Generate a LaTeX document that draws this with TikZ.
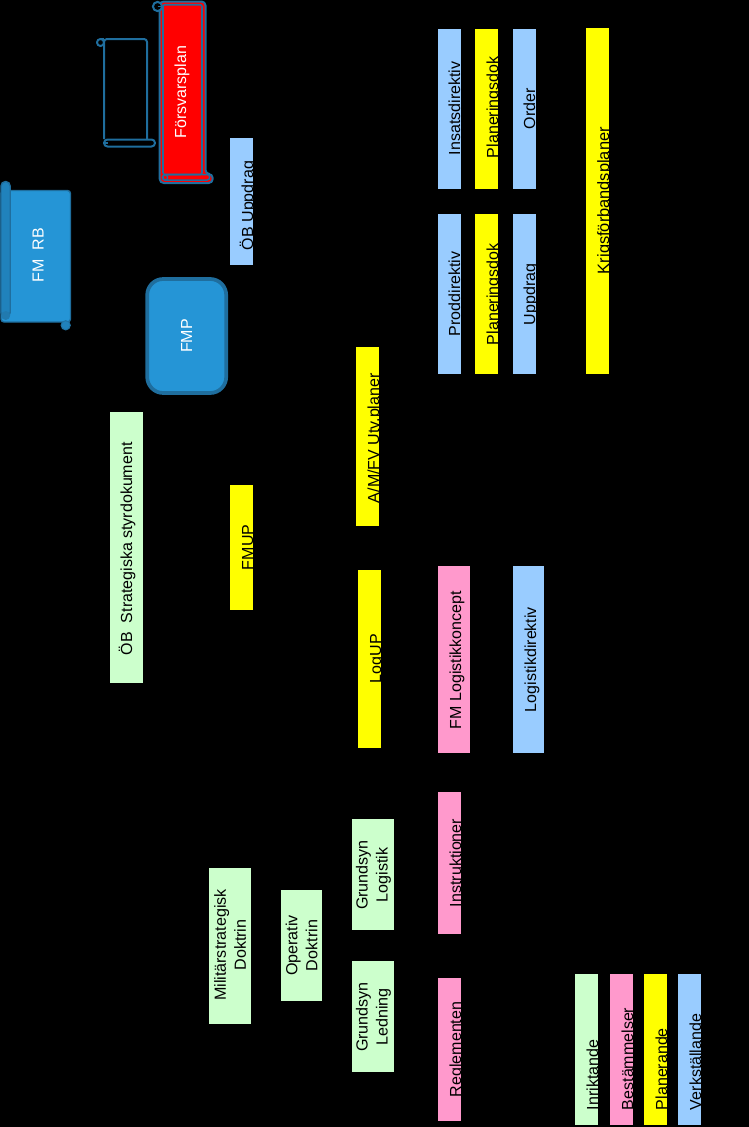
\documentclass[tikz,border=0pt]{standalone}
\usepackage{fontspec}
\setmainfont{Liberation Sans}
\definecolor{cgreen}{HTML}{CCFFCC}
\definecolor{cblue}{HTML}{99CCFF}
\definecolor{cyel}{HTML}{FFFF00}
\definecolor{cpink}{HTML}{FF99CC}
\definecolor{cfill}{HTML}{2595D6}
\definecolor{cedge}{HTML}{1F6E9E}
\definecolor{cdark}{HTML}{2082BC}
\tikzset{
  px/.style={x=1pt,y=-1pt},
  lbl/.style={rotate=90,anchor=base west,inner sep=0pt,outer sep=0pt,font=\fontsize{16}{16}\selectfont,text=black},
  lblw/.style={lbl,font=\fontsize{16.4}{16}\selectfont},
  lblc/.style={rotate=90,anchor=center,inner sep=0pt,outer sep=0pt,font=\fontsize{16.1}{20}\selectfont,text=black,align=center},
  wlbl/.style={rotate=90,anchor=center,inner sep=0pt,outer sep=0pt,font=\fontsize{16}{16}\selectfont,text=white},
  scrollline/.style={draw=cedge,line width=2pt,line join=round},
}
% name, x0, y0, x1, y1, colour
\newcommand{\blk}[6]{\path[fill=#6] (#2,#3) rectangle (#4,#5); \coordinate (#1) at (#2,#3);}
\begin{document}
\begin{tikzpicture}[px]
\useasboundingbox[fill=black] (0,0) rectangle (749,1127);
% empty scroll
\draw[scrollline,rounded corners=3pt] (104,139) -- (104,39) -- (147,39) -- (147,139);
\draw[scrollline] (104,39) -- (100.5,39);
\draw[scrollline] (100.5,42.5) circle (3.5);
\draw[scrollline,rounded corners=3.5pt] (104,139.5) rectangle (155,146.5);
\draw[scrollline,line width=1.2pt] (105,143) -- (108,143);
% Forsvarsplan
\path[fill=red,scrollline,rounded corners=4pt] (159.7,183) -- (159.7,1.5) -- (205.5,1.5) -- (205.5,174) -- (212.7,174) -- (212.7,183) -- cycle;
\path[fill=red,scrollline,line width=1.6pt,rounded corners=2pt] (163,4.7) -- (202,4.7) -- (202,174.5) -- (163,174.5) -- cycle;
\draw[scrollline,line width=1.5pt,rounded corners=2.5pt] (163,174.5) rectangle (209.7,180);
\draw[scrollline,line width=1.3pt] (165,177.5) circle (2.7);
\path[fill=black,scrollline] (157.5,6.5) circle (4.6);
\draw[scrollline,line width=1.2pt] (157.5,6.5) -- (161,6.5);
\node[wlbl] (fp) at (182,92) {Försvarsplan};
% FM RB
\path[fill=cfill,draw=cedge,line width=1.4pt,rounded corners=3pt] (1,190.5) -- (70.5,190.5) -- (70.5,322) -- (1,322) -- cycle;
\path[fill=cdark,draw=cedge,line width=1.4pt,rounded corners=4.5pt] (1,181.5) -- (10.2,181.5) -- (10.2,317) -- (1,317) -- cycle;
\path[fill=cedge!70!cfill] (5.7,315.5) circle (4.5);
\path[fill=cdark,draw=cedge!85!cfill,line width=1pt] (65.7,325.3) circle (4.6);
\node[wlbl] (fmrb) at (38,255) {FM\ \ RB};
% FMP
\node[draw=cedge,fill=cfill,line width=3.7pt,rounded corners=16pt,minimum width=79pt,minimum height=114pt,inner sep=0pt] (fmpbox) at (186.7,336) {};
\node[wlbl] (fmp) at (fmpbox.center) {FMP};
% blocks
\blk{b1}{438}{29}{461}{189}{cblue}\node[lbl] (t1) at (460,155) {Insatsdirektiv};
\blk{b2}{475}{29}{498}{189}{cyel}\node[lbl] (t2) at (498,158) {Planeringsdok};
\blk{b3}{513}{29}{536}{189}{cblue}\node[lbl] (t3) at (535,129) {Order};
\blk{b4}{438}{214}{461}{374}{cblue}\node[lbl] (t4) at (460,336) {Proddirektiv};
\blk{b5}{475}{214}{498}{374}{cyel}\node[lbl] (t5) at (498,345) {Planeringsdok};
\blk{b6}{513}{214}{536}{374}{cblue}\node[lbl] (t6) at (535,325) {Uppdrag};
\blk{b7}{586}{28}{609}{374}{cyel}\node[lblw] (t7) at (609,274) {Krigsförbandsplaner};
\blk{b8}{230}{138}{253}{265}{cblue}\node[lbl] (t8) at (253,250) {ÖB Uppdrag};
\blk{b9}{110}{412}{143}{683}{cgreen}\node[lbl] (t9) at (132,655) {ÖB\ \ Strategiska styrdokument};
\blk{b10}{230}{485}{253}{610}{cyel}\node[lbl] (t10) at (253,570) {FMUP};
\blk{b11}{356}{347}{379}{526}{cyel}\node[lbl] (t11) at (379,503) {A/M/FV Utv.planer};
\blk{b12}{358}{570}{381}{748}{cyel}\node[lbl] (t12) at (381,683) {LogUP};
\blk{b13}{438}{566}{470}{753}{cpink}\node[lbl] (t13) at (461,729) {FM Logistikkoncept};
\blk{b14}{513}{566}{544}{753}{cblue}\node[lbl] (t14) at (536,712) {Logistikdirektiv};
\blk{b15}{438}{792}{461}{934}{cpink}\node[lbl] (t15) at (461,907) {Instruktioner};
\blk{b16}{438}{978}{461}{1121}{cpink}\node[lbl] (t16) at (461,1097) {Reglementen};
\blk{b17}{352}{819}{394}{930}{cgreen}\node[lblc] (t17) at (373.5,875) {Grundsyn\\Logistik};
\blk{b18}{352}{961}{394}{1072}{cgreen}\node[lblc] (t18) at (373.5,1017) {Grundsyn\\Ledning};
\blk{b19}{281}{890}{322}{1001}{cgreen}\node[lblc] (t19) at (301.5,945.5) {Operativ\\Doktrin};
\blk{b20}{209}{868}{251}{1024}{cgreen}\node[lblc] (t20) at (230,945) {Militärstrategisk\\Doktrin};
\blk{b21}{575}{974}{598}{1125}{cgreen}\node[lbl] (t21) at (598,1110) {Inriktande};
\blk{b22}{610}{974}{633}{1125}{cpink}\node[lbl] (t22) at (633,1110) {Bestämmelser};
\blk{b23}{644}{974}{667}{1125}{cyel}\node[lbl] (t23) at (667,1110) {Planerande};
\blk{b24}{678}{974}{701}{1125}{cblue}\node[lbl] (t24) at (701,1110) {Verkställande};
\end{tikzpicture}
\end{document}
